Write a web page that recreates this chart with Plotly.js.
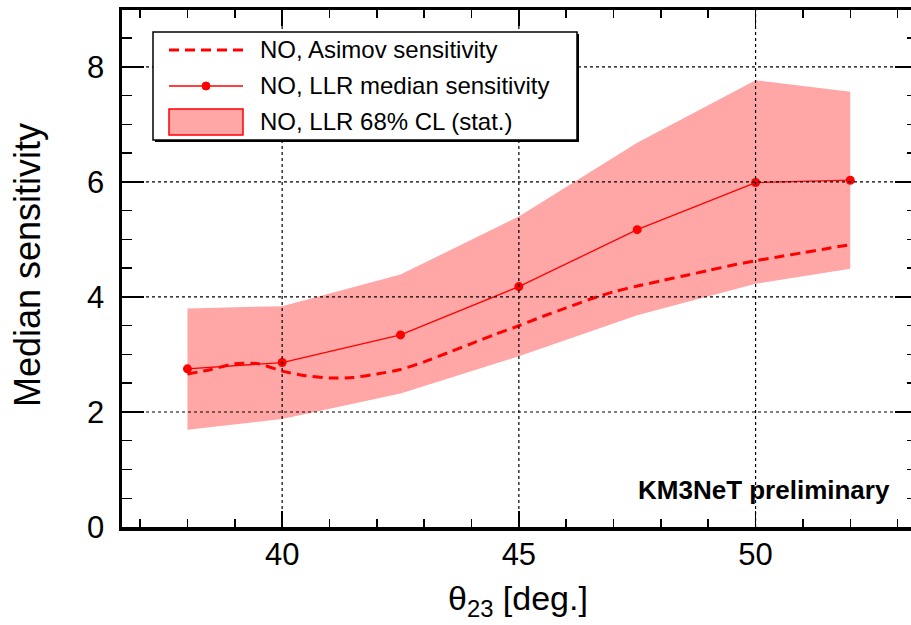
<!DOCTYPE html>
<html>
<head>
<meta charset="utf-8">
<script src="https://cdn.plot.ly/plotly-3.0.1.min.js"></script>
<style>
html,body{margin:0;padding:0;overflow:hidden;background:#fff;}
#chart{width:920px;height:625px;}
</style>
</head>
<body>
<div id="chart"></div>
<script>
// ---- data ----
const theta = [38, 40, 42.5, 45, 47.5, 50, 52];
const llrMedian = [2.75, 2.86, 3.34, 4.18, 5.17, 5.99, 6.03];
const bandUpper = [3.80, 3.84, 4.39, 5.40, 6.68, 7.77, 7.57];
const bandLower = [1.69, 1.88, 2.32, 2.97, 3.68, 4.23, 4.49];
const asimovTheta = [38, 38.5, 39, 39.5, 40, 40.5, 41, 41.5, 42, 42.5, 43, 43.5, 44, 44.5, 45,
                     45.5, 46, 46.5, 47, 47.5, 48, 48.5, 49, 49.5, 50, 50.5, 51, 51.5, 52];
const asimov = [2.66, 2.74, 2.84, 2.84, 2.71, 2.63, 2.59, 2.60, 2.66, 2.74, 2.87, 3.03, 3.19, 3.35, 3.50,
                3.66, 3.81, 3.96, 4.09, 4.19, 4.28, 4.37, 4.46, 4.55, 4.63, 4.70, 4.77, 4.84, 4.91];
const xGridTicks = [40, 45, 50];
const yGridTicks = [2, 4, 6, 8];
const legendLabels = ["NO, Asimov sensitivity", "NO, LLR median sensitivity", "NO, LLR 68% CL (stat.)"];
const xTitle = "θ<sub>23</sub> [deg.]";
const yTitle = "Median sensitivity";
const tagText = "<b>KM3NeT preliminary</b>";

// ---- layout geometry (pixels) ----
const W = 920, H = 625;
const L = 122, R = 917, T = 10, B = 527;
const px = x => (x - L) / (R - L);
const py = y => (B - y) / (B - T);

const RED = "#ff0000";
const PINK = "rgb(255,166,166)";
const FONT = "Liberation Sans, Arial, Helvetica, sans-serif";

const traces = [
  {
    x: theta.concat(theta.slice().reverse()),
    y: bandUpper.concat(bandLower.slice().reverse()),
    type: "scatter", mode: "lines", fill: "toself",
    fillcolor: PINK, line: {width: 0, color: PINK},
    hoverinfo: "skip", showlegend: false
  },
  {
    x: asimovTheta, y: asimov,
    type: "scatter", mode: "lines",
    line: {color: RED, width: 3, dash: "10px,6px", shape: "spline", smoothing: 0.6},
    showlegend: false
  },
  {
    x: theta, y: llrMedian,
    type: "scatter", mode: "lines+markers",
    line: {color: RED, width: 1.3},
    marker: {color: RED, size: 9},
    showlegend: false
  }
];

const shapes = [];
xGridTicks.forEach(v => shapes.push({
  type: "line", xref: "x", yref: "paper", x0: v, x1: v, y0: 0, y1: 1,
  line: {color: "#000", width: 1.2, dash: "dot"}, layer: "above"
}));
yGridTicks.forEach(v => shapes.push({
  type: "line", xref: "paper", yref: "y", x0: 0, x1: 1, y0: v, y1: v,
  line: {color: "#000", width: 1.2, dash: "dot"}, layer: "above"
}));
// legend box with shadow
shapes.push({type: "rect", xref: "paper", yref: "paper",
  x0: px(155), x1: px(579), y0: py(142), y1: py(34),
  fillcolor: "#000", line: {width: 0}, layer: "above"});
shapes.push({type: "rect", xref: "paper", yref: "paper",
  x0: px(153), x1: px(577), y0: py(140), y1: py(32),
  fillcolor: "#fff", line: {color: "#000", width: 1.5}, layer: "above"});
// legend samples
shapes.push({type: "line", xref: "paper", yref: "paper",
  x0: px(169), x1: px(243), y0: py(50), y1: py(50),
  line: {color: RED, width: 3, dash: "10px,6px"}, layer: "above"});
shapes.push({type: "line", xref: "paper", yref: "paper",
  x0: px(169), x1: px(243), y0: py(86), y1: py(86),
  line: {color: RED, width: 1.3}, layer: "above"});
shapes.push({type: "circle", xref: "paper", yref: "paper",
  x0: px(202), x1: px(210), y0: py(90), y1: py(82),
  fillcolor: RED, line: {color: RED, width: 1}, layer: "above"});
shapes.push({type: "rect", xref: "paper", yref: "paper",
  x0: px(169), x1: px(243), y0: py(135), y1: py(109),
  fillcolor: PINK, line: {color: RED, width: 1.5}, layer: "above"});

const annotations = [
  {text: yTitle, xref: "paper", yref: "paper", x: px(27), y: py(265), textangle: -90,
   showarrow: false, xanchor: "center", yanchor: "middle", font: {size: 36, color: "#000", family: FONT}},
  {text: xTitle, xref: "paper", yref: "paper", x: px(518), y: py(600),
   showarrow: false, xanchor: "center", yanchor: "middle", font: {size: 34, color: "#000", family: FONT}},
  {text: tagText, xref: "paper", yref: "paper", x: px(892), y: py(490),
   showarrow: false, xanchor: "right", yanchor: "middle", font: {size: 26, color: "#000", family: FONT}}
];
[50, 86, 122].forEach((yy, i) => annotations.push({
  text: legendLabels[i], xref: "paper", yref: "paper", x: px(258), y: py(yy),
  showarrow: false, xanchor: "left", yanchor: "middle", font: {size: 24, color: "#000", family: FONT}
}));

const layout = {
  width: W, height: H,
  margin: {l: L, r: W - R, t: T, b: H - B, pad: 0},
  paper_bgcolor: "#fff", plot_bgcolor: "#fff",
  font: {family: FONT, color: "#000"},
  showlegend: false,
  xaxis: {
    range: [36.617, 53.41], tick0: 0, dtick: 5,
    ticks: "inside", ticklen: 16, tickwidth: 1.5, tickcolor: "#000",
    minor: {dtick: 1, tick0: 0, ticks: "inside", ticklen: 8, tickwidth: 1.5, tickcolor: "#000", showgrid: false},
    showgrid: false, zeroline: false,
    showline: true, linewidth: 3.5, linecolor: "#000", mirror: "ticks",
    tickfont: {size: 31, family: FONT, color: "#000"},
    ticklabelstandoff: -3
  },
  yaxis: {
    range: [0, 8.99], tick0: 0, dtick: 2,
    ticks: "inside", ticklen: 22, tickwidth: 1.5, tickcolor: "#000",
    minor: {dtick: 0.5, tick0: 0, ticks: "inside", ticklen: 10, tickwidth: 1.5, tickcolor: "#000", showgrid: false},
    showgrid: false, zeroline: false,
    showline: true, linewidth: 3.5, linecolor: "#000", mirror: "ticks",
    tickfont: {size: 31, family: FONT, color: "#000"},
    ticklabelstandoff: 8
  },
  shapes: shapes,
  annotations: annotations
};

Plotly.newPlot("chart", traces, layout, {staticPlot: true, displayModeBar: false});
</script>
</body>
</html>
